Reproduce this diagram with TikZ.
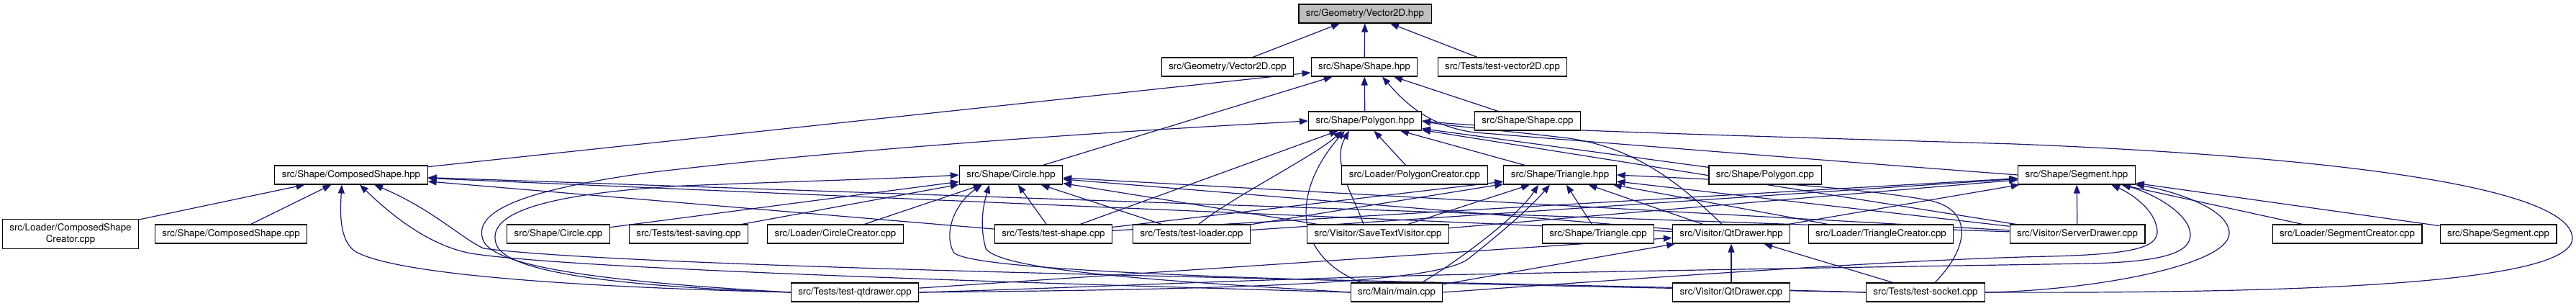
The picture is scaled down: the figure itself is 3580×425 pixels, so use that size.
\documentclass[tikz,border=0pt]{standalone}
\usepackage{fontspec}
\setmainfont{TeX Gyre Heros}
\usetikzlibrary{arrows.meta,backgrounds}
\definecolor{mblue}{HTML}{191970}
\definecolor{topgray}{HTML}{BFBFBF}
\begin{document}
\begin{tikzpicture}[x=1pt,y=-1pt,
  box/.style={draw=black, line width=1.1pt, fill=white, minimum height=26pt,
    inner xsep=10pt, inner ysep=0pt, font=\fontsize{13.3}{15.5}\selectfont},
  incl/.style={draw=mblue, line width=1.2pt, -{Triangle[length=12pt,width=9pt]}}]
\useasboundingbox (0,0) rectangle (3580,425);
% row 0
\node[box, fill=topgray] (V2Dh) at (1897,19) {src/Geometry/Vector2D.hpp};
% row 1
\node[box] (V2Dcpp) at (1706,93) {src/Geometry/Vector2D.cpp};
\node[box] (Shapeh) at (1896,93) {src/Shape/Shape.hpp};
\node[box] (tV2D) at (2088,93) {src/Tests/test-vector2D.cpp};
% row 2
\node[box] (Polyh) at (1897,168) {src/Shape/Polygon.hpp};
\node[box] (Shapecpp) at (2123,168) {src/Shape/Shape.cpp};
% row 3
\node[box] (Compsh) at (488,243) {src/Shape/ComposedShape.hpp};
\node[box] (Circleh) at (1405,243) {src/Shape/Circle.hpp};
\node[box] (PolyCreator) at (1966,243) {src/Loader/PolygonCreator.cpp};
\node[box] (Trih) at (2168,243) {src/Shape/Triangle.hpp};
\node[box] (Polycpp) at (2453,243) {src/Shape/Polygon.cpp};
\node[box] (Segh) at (2886,243) {src/Shape/Segment.hpp};
% row 4
\node[box, align=center, inner ysep=3pt, minimum height=41pt] (CSCreator) at (98,325) {src/Loader/ComposedShape\\Creator.cpp};
\node[box] (CScpp) at (321,325) {src/Shape/ComposedShape.cpp};
\node[box] (Circlecpp) at (776,325) {src/Shape/Circle.cpp};
\node[box] (tsaving) at (957,325) {src/Tests/test-saving.cpp};
\node[box] (CircleCreator) at (1161,325) {src/Loader/CircleCreator.cpp};
\node[box] (tshape) at (1464,325) {src/Tests/test-shape.cpp};
\node[box] (tloader) at (1656,325) {src/Tests/test-loader.cpp};
\node[box] (SaveText) at (1915,325) {src/Visitor/SaveTextVisitor.cpp};
\node[box] (Tricpp) at (2221,325) {src/Shape/Triangle.cpp};
\node[box] (QtDh) at (2406,325) {src/Visitor/QtDrawer.hpp};
\node[box] (TriCreator) at (2614,325) {src/Loader/TriangleCreator.cpp};
\node[box] (ServerD) at (2887,325) {src/Visitor/ServerDrawer.cpp};
\node[box] (SegCreator) at (3262,325) {src/Loader/SegmentCreator.cpp};
\node[box] (Segcpp) at (3472,325) {src/Shape/Segment.cpp};
% row 5
\node[box] (tqtd) at (1188,406) {src/Tests/test-qtdrawer.cpp};
\node[box] (main) at (1941,406) {src/Main/main.cpp};
\node[box] (QtDcpp) at (2406,406) {src/Visitor/QtDrawer.cpp};
\node[box] (tsocket) at (2676,406) {src/Tests/test-socket.cpp};

\begin{pgfonlayer}{background}
% ---- to Vector2D.hpp
\draw[incl] (V2Dcpp) -- (V2Dh);
\draw[incl] (Shapeh) -- (V2Dh);
\draw[incl] (tV2D) -- (V2Dh);
% ---- to Shape.hpp
\draw[incl] (Compsh) -- (Shapeh);
\draw[incl] (Circleh) -- (Shapeh);
\draw[incl] (Polyh) -- (Shapeh);
\draw[incl] (Shapecpp) -- (Shapeh);
\draw[incl] (Segh.west) .. controls (2500,220) and (2150,192) .. (2050,184) .. controls (1985,176) and (1950,140) .. ([xshift=25pt]Shapeh.south);
% ---- to Polygon.hpp
\draw[incl] (Trih) -- (Polyh);
\draw[incl] (Polycpp) -- (Polyh);
\draw[incl] (PolyCreator) -- (Polyh);
\draw[incl] (tshape) -- (Polyh);
\draw[incl] (ServerD) -- (Polyh);
\draw[incl] ([xshift=10pt]tloader.north) .. controls (1710,275) and (1830,215) .. ([xshift=-32pt]Polyh.south);
\draw[incl] ([xshift=-20pt]SaveText.north) .. controls (1880,270) and (1850,225) .. ([xshift=-22pt]Polyh.south);
\draw[incl] ([xshift=-50pt]main.north) .. controls (1790,350) and (1800,260) .. ([xshift=-28pt]Polyh.south);
\draw[incl] ([xshift=-13pt]QtDh.north) .. controls (2330,250) and (2270,205) .. (2180,192) .. controls (2080,180) and (2020,176) .. (Polyh.east);
\draw[incl] (tsocket.east) .. controls (3250,408) and (3578,390) .. (3575,330) .. controls (3570,260) and (3250,218) .. (2800,200) .. controls (2400,188) and (2100,180) .. (Polyh.east);
\draw[incl] (tqtd.west) .. controls (850,392) and (690,372) .. (672,335) .. controls (655,295) and (720,265) .. (900,240) .. controls (1150,210) and (1500,185) .. (Polyh.west);
% ---- to ComposedShape.hpp
\draw[incl] (CSCreator) -- (Compsh);
\draw[incl] (CScpp) -- (Compsh);
\draw[incl] (tshape) -- (Compsh);
\draw[incl] (QtDh) -- (Compsh);
\draw[incl] (ServerD) -- (Compsh);
\draw[incl] (tqtd.west) .. controls (850,400) and (560,385) .. (495,350) .. controls (470,335) and (473,290) .. ([xshift=-13pt]Compsh.south);
\draw[incl] (main.west) .. controls (1500,395) and (800,375) .. (655,352) .. controls (590,340) and (535,290) .. ([xshift=12pt]Compsh.south);
\draw[incl] (tsocket.west) .. controls (2100,392) and (900,375) .. (672,345) .. controls (640,330) and (600,290) .. ([xshift=32pt]Compsh.south);
% ---- to Circle.hpp
\draw[incl] (Circlecpp) -- (Circleh);
\draw[incl] (tsaving) -- (Circleh);
\draw[incl] (CircleCreator) -- (Circleh);
\draw[incl] (tshape) -- (Circleh);
\draw[incl] (tloader) -- (Circleh);
\draw[incl] (SaveText) -- (Circleh);
\draw[incl] (QtDh) -- (Circleh);
\draw[incl] (ServerD) -- (Circleh);
\draw[incl] (tqtd.west) .. controls (870,398) and (705,380) .. (690,340) .. controls (675,300) and (740,270) .. (950,258) .. controls (1100,252) and (1250,248) .. (Circleh.west);
\draw[incl] (main.west) .. controls (1650,392) and (1390,378) .. (1370,345) .. controls (1360,310) and (1368,280) .. ([xshift=-30pt]Circleh.south);
\draw[incl] (tsocket.west) .. controls (2100,395) and (1345,385) .. (1325,350) .. controls (1310,320) and (1330,280) .. ([xshift=-40pt]Circleh.south);
% ---- to Triangle.hpp
\draw[incl] (Tricpp) -- (Trih);
\draw[incl] (TriCreator) -- (Trih);
\draw[incl] (tshape) -- (Trih);
\draw[incl] (tloader) -- (Trih);
\draw[incl] (SaveText) -- (Trih);
\draw[incl] (QtDh) -- (Trih);
\draw[incl] (ServerD) -- (Trih);
\draw[incl] ([xshift=35pt]main.north) .. controls (2030,360) and (2110,300) .. ([xshift=-30pt]Trih.south);
\draw[incl] (tqtd.east) .. controls (1700,402) and (1990,395) .. (2040,360) .. controls (2090,320) and (2125,290) .. ([xshift=-14pt]Trih.south);
\draw[incl] ([xshift=13pt]tsocket.north) .. controls (2740,340) and (2740,290) .. (2680,278) .. controls (2550,255) and (2350,248) .. (Trih.east);
% ---- to Segment.hpp
\draw[incl] (ServerD) -- (Segh);
\draw[incl] (SegCreator) -- (Segh);
\draw[incl] (Segcpp) -- (Segh);
\draw[incl] (tshape) -- (Segh);
\draw[incl] (tloader) -- (Segh);
\draw[incl] (SaveText) -- (Segh);
\draw[incl] (QtDh) -- (Segh);
\draw[incl] (main.east) .. controls (2300,385) and (2650,360) .. (2850,356) .. controls (2960,353) and (3000,345) .. (2998,320) .. controls (2995,290) and (2960,268) .. ([xshift=48pt]Segh.south);
\draw[incl] (tqtd.east) .. controls (1500,400) and (1800,385) .. (2100,380) .. controls (2500,372) and (2800,368) .. (2900,366) .. controls (3010,364) and (3045,350) .. (3044,325) .. controls (3042,295) and (2990,268) .. ([xshift=63pt]Segh.south);
\draw[incl] (tsocket.east) .. controls (2900,404) and (3095,370) .. (3098,325) .. controls (3100,290) and (3020,265) .. (Segh.south east);
% ---- to QtDrawer.hpp
\draw[incl] (tqtd) -- (QtDh);
\draw[incl] (main) -- (QtDh);
\draw[incl] (QtDcpp) -- (QtDh);
\draw[incl] (tsocket) -- (QtDh);
\end{pgfonlayer}
\end{tikzpicture}
\end{document}
